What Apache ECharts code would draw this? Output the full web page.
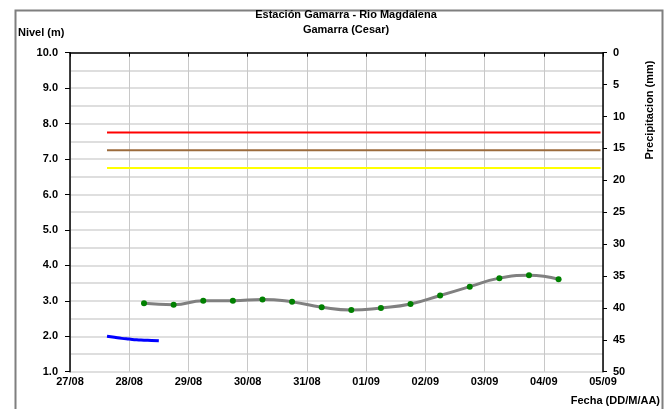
<!DOCTYPE html>
<html>
<head>
<meta charset="utf-8">
<script src="https://cdn.jsdelivr.net/npm/echarts@6/dist/echarts.min.js"></script>
<style>
html,body{margin:0;padding:0;background:#fff;}
#chart{width:667px;height:409px;}
</style>
</head>
<body>
<div id="chart"></div>
<script>
// fechas del eje x (27/08 .. 05/09)
let fechas=["27/08","28/08","29/08","30/08","31/08","01/09","02/09","03/09","04/09","05/09"];

// nivel observado (puntos verdes)
let nivelHoras=["28/08 06:00","28/08 18:00","29/08 06:00","29/08 18:00","30/08 06:00","30/08 18:00","31/08 06:00","31/08 18:00",
    "01/09 06:00","01/09 18:00","02/09 06:00","02/09 18:00","03/09 06:00","03/09 18:00","04/09 06:00"];
let nivelValores=[2.93,2.89,3.00,3.00,3.04,2.97,2.82,2.74,2.80,2.91,3.15,3.40,3.64,3.72,3.61];

// linea azul
let azulHoras=["27/08 15:00","27/08 18:00","27/08 21:00","28/08 00:00","28/08 03:00","28/08 06:00","28/08 09:00","28/08 12:00"];
let azulValores=[2.00,1.97,1.94,1.92,1.90,1.89,1.88,1.87];

// umbrales
let umbralHoras=["27/08 15:00","04/09 23:00"];
let umbrales=[7.75,7.25,6.75];
let umbralColores=["#ff0000","#9c6b3c","#ffff00"];

function off(s){
    let p=s.split(" ");
    let dm=p[0].split("/");
    let hm=p[1].split(":");
    let t=Date.UTC(2014,+dm[1]-1,+dm[0],+hm[0],+hm[1]);
    return (t-Date.UTC(2014,7,27))/86400000;
}

let font='"Liberation Sans", Arial, sans-serif';
let series=[];
umbrales.forEach(function(u,i){
    series.push({
        type:'line',
        data:umbralHoras.map(function(h){return [off(h),u];}),
        symbol:'none',
        lineStyle:{color:umbralColores[i],width:2},
        silent:true
    });
});
series.push({
    type:'line',
    data:azulHoras.map(function(h,i){return [off(h),azulValores[i]];}),
    symbol:'none',
    smooth:true,
    lineStyle:{color:'#0000ff',width:3}
});
series.push({
    type:'line',
    data:nivelHoras.map(function(h,i){return [off(h),nivelValores[i]];}),
    smooth:true,
    symbol:'circle',
    symbolSize:6,
    itemStyle:{color:'#008000'},
    lineStyle:{color:'#808080',width:3}
});
// eje de precipitacion (sin datos)
series.push({type:'line',yAxisIndex:1,data:[]});

var myChart=echarts.init(document.getElementById("chart"));
var option={
    backgroundColor:'#fff',
    animation:false,
    grid:{left:70,right:64,top:52.7,bottom:37.3},
    xAxis:{
        type:'value',min:0,max:9,interval:1,
        axisLine:{lineStyle:{color:'#000',width:1.5}},
        axisTick:{show:true,length:4,lineStyle:{color:'#000'}},
        axisLabel:{color:'#000',fontFamily:font,fontWeight:'bold',fontSize:11,margin:5,
            formatter:function(v){return fechas[Math.round(v)];}},
        splitLine:{show:true,lineStyle:{color:'#c8c8c8',width:1}}
    },
    yAxis:[{
        type:'value',min:1,max:10,interval:1,
        axisLine:{show:true,lineStyle:{color:'#000',width:1.5}},
        axisTick:{show:true,length:5,lineStyle:{color:'#000'}},
        axisLabel:{color:'#000',fontFamily:font,fontWeight:'bold',fontSize:11,margin:12,
            formatter:function(v){return v.toFixed(1);}},
        splitLine:{show:true,lineStyle:{color:'#d4d4d4',width:1.5}},
        minorTick:{show:false,splitNumber:2},
        minorSplitLine:{show:true,lineStyle:{color:'#d4d4d4',width:1.5}}
    },{
        type:'value',min:0,max:50,interval:5,inverse:true,position:'right',
        axisLine:{show:true,lineStyle:{color:'#000',width:1.5}},
        axisTick:{show:true,length:4,lineStyle:{color:'#000'}},
        axisLabel:{color:'#000',fontFamily:font,fontWeight:'bold',fontSize:11,margin:10},
        splitLine:{show:false}
    }],
    series:series,
    graphic:[
        {type:'rect',shape:{x:15.5,y:10.5,width:647,height:420},
            style:{fill:'none',stroke:'#7f7f7f',lineWidth:2},silent:true},
        {type:'text',x:346,y:15,style:{text:'Estación Gamarra - Rio Magdalena',font:'bold 11px '+font,
            fill:'#000',textAlign:'center',textVerticalAlign:'middle'}},
        {type:'text',x:346,y:30,style:{text:'Gamarra (Cesar)',font:'bold 11px '+font,
            fill:'#000',textAlign:'center',textVerticalAlign:'middle'}},
        {type:'text',x:18,y:33,style:{text:'Nivel (m)',font:'bold 11px '+font,
            fill:'#000',textAlign:'left',textVerticalAlign:'middle'}},
        {type:'text',x:660,y:401,style:{text:'Fecha (DD/M/AA)',font:'bold 11px '+font,
            fill:'#000',textAlign:'right',textVerticalAlign:'middle'}},
        {type:'text',x:650,y:110,rotation:Math.PI/2,style:{text:'Precipitacion (mm)',font:'bold 11px '+font,
            fill:'#000',textAlign:'center',textVerticalAlign:'middle'}}
    ]
};
myChart.setOption(option);
</script>
</body>
</html>
